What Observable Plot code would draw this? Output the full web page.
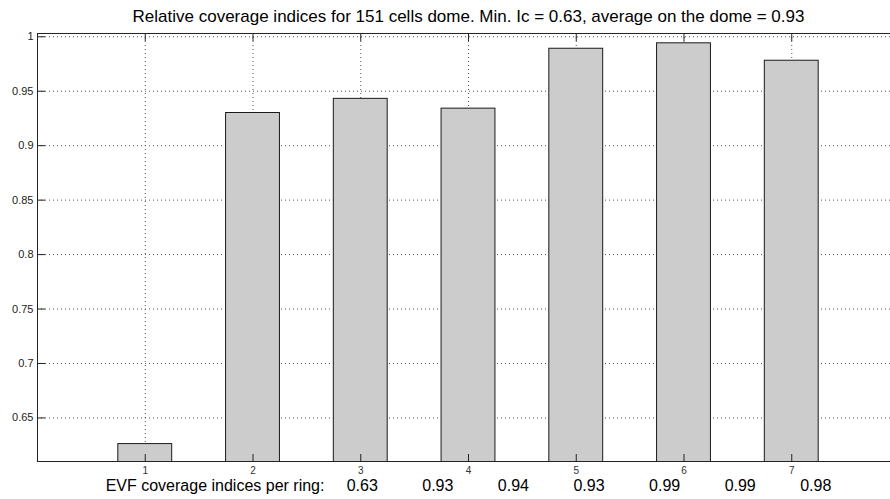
<!DOCTYPE html>
<html>
<head>
<meta charset="utf-8">
<script src="https://cdn.jsdelivr.net/npm/d3@7"></script>
<script src="https://cdn.jsdelivr.net/npm/@observablehq/plot@0.6"></script>
<style>
  html, body { margin: 0; padding: 0; background: #fff; overflow: hidden; }
  #chart svg { max-width: none !important; width: 900px !important; height: 499px !important; display: block; }
  svg text { white-space: pre; }
</style>
</head>
<body>
<div id="chart"></div>
<script>
const rings = [1, 2, 3, 4, 5, 6, 7];
const coverage = [0.626, 0.930, 0.943, 0.934, 0.989, 0.994, 0.978];
const perRingLabels = ["0.63", "0.93", "0.94", "0.93", "0.99", "0.99", "0.98"];
const yTicks = [0.65, 0.7, 0.75, 0.8, 0.85, 0.9, 0.95, 1];
const xTicks = [1, 2, 3, 4, 5, 6, 7];
const titleText = "Relative coverage indices for 151 cells dome. Min. Ic = 0.63, average on the dome = 0.93";
const xLabelText = "EVF coverage indices per ring:     " + perRingLabels.join("          ");

const data = rings.map((r, i) => ({ring: r, value: coverage[i]}));
const halfWidth = 0.25;

const chart = Plot.plot({
  width: 900,
  height: 499,
  marginLeft: 37,
  marginRight: 1,
  marginTop: 33,
  marginBottom: 38,
  style: {fontFamily: "'Liberation Sans', Arial, sans-serif", fontSize: "11px", color: "#000", background: "#fff", maxWidth: "none"},
  x: {type: "linear", domain: [0, 8]},
  y: {type: "linear", domain: [0.61, 1.003]},
  marks: [
    Plot.gridY(yTicks, {stroke: "#555", strokeOpacity: 1, strokeDasharray: "1,3"}),
    Plot.gridX(xTicks, {stroke: "#555", strokeOpacity: 1, strokeDasharray: "1,3"}),
    Plot.rectY(data, {x1: d => d.ring - halfWidth, x2: d => d.ring + halfWidth, y1: 0, y2: "value", fill: "#cccccc", stroke: "#1a1a1a", strokeWidth: 1, clip: true}),
    Plot.axisY(yTicks, {anchor: "left", tickSize: -8, tickPadding: 12, stroke: "#222", fill: "#222", fontSize: 11, tickFormat: d => String(+d.toFixed(2)), label: null}),
    Plot.axisX(xTicks, {anchor: "bottom", tickSize: -7, tickPadding: 12, stroke: "#222", fill: "#333", fontSize: 10, tickFormat: d => String(d), label: null}),
    Plot.axisX(xTicks, {anchor: "top", tickSize: -7, stroke: "#222", tickFormat: () => "", label: null}),
    Plot.frame({stroke: "#222"}),
    Plot.text([titleText], {frameAnchor: "top", lineAnchor: "middle", dy: -17, fontSize: 17, fill: "#000", text: d => d}),
    Plot.text([xLabelText], {frameAnchor: "bottom", lineAnchor: "middle", dy: 24, fontSize: 16, fill: "#000", text: d => d})
  ]
});
document.getElementById("chart").appendChild(chart);
</script>
</body>
</html>
